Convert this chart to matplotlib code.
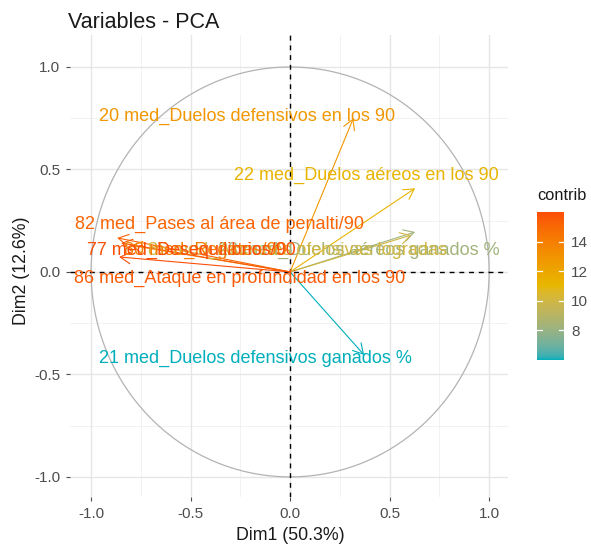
import numpy as np
import matplotlib
matplotlib.use("Agg")
import matplotlib.pyplot as plt
from matplotlib.colors import ListedColormap, Normalize, to_rgb

plt.rcParams['font.family'] = ['Liberation Sans', 'DejaVu Sans']

# ---- data ----
var_labels = [
    "20 med_Duelos defensivos en los 90",
    "22 med_Duelos aéreos en los 90",
    "23 med_Duelos aéreos ganados %",
    "85 med_Acciones ofensivas logradas",
    "21 med_Duelos defensivos ganados %",
    "82 med_Pases al área de penalti/90",
    "80 med_Regates/90",
    "86 med_Ataque en profundidad en los 90",
    "77 med_Desequilibrios/90",
]
dim1 = [0.318, 0.628, 0.628, 0.610, 0.372, -0.869, -0.800, -0.849, -0.859]
dim2 = [0.750, 0.408, 0.195, 0.180, -0.405, 0.166, 0.130, 0.141, 0.073]
contrib = [12.8, 11.2, 8.3, 10.0, 6.0, 15.2, 14.0, 15.5, 16.0]
# label anchor positions (as placed by the repel algorithm in the reference)
label_x = [-0.214, 0.385, 1.055, 0.789, -0.176, -0.354, -0.015, -0.254, -1.02]
label_y = [0.758, 0.473, 0.107, 0.107, -0.424, 0.234, 0.107, -0.030, 0.107]
label_ha = ["center", "center", "right", "right", "center", "center", "right", "center", "left"]

xticks = [-1.0, -0.5, 0.0, 0.5, 1.0]
yticks = [-1.0, -0.5, 0.0, 0.5, 1.0]
cbar_ticks = [8, 10, 12, 14]
gradient_cols = ["#00AFBB", "#E7B800", "#FC4E07"]

# ---- Lab-space gradient (like ggplot2 scales) ----
def srgb_to_lab(rgb):
    rgb = np.asarray(rgb, float)
    lin = np.where(rgb <= 0.04045, rgb / 12.92, ((rgb + 0.055) / 1.055) ** 2.4)
    M = np.array([[0.4124564, 0.3575761, 0.1804375],
                  [0.2126729, 0.7151522, 0.0721750],
                  [0.0193339, 0.1191920, 0.9503041]])
    xyz = lin @ M.T / np.array([0.95047, 1.0, 1.08883])
    f = np.where(xyz > 0.008856, np.cbrt(xyz), 7.787 * xyz + 16 / 116)
    return np.stack([116 * f[..., 1] - 16, 500 * (f[..., 0] - f[..., 1]),
                     200 * (f[..., 1] - f[..., 2])], -1)

def lab_to_srgb(lab):
    lab = np.asarray(lab, float)
    fy_ = (lab[..., 0] + 16) / 116
    fx_ = fy_ + lab[..., 1] / 500
    fz_ = fy_ - lab[..., 2] / 200
    f = np.stack([fx_, fy_, fz_], -1)
    xyz = np.where(f ** 3 > 0.008856, f ** 3, (f - 16 / 116) / 7.787)
    xyz = xyz * np.array([0.95047, 1.0, 1.08883])
    Minv = np.linalg.inv(np.array([[0.4124564, 0.3575761, 0.1804375],
                                   [0.2126729, 0.7151522, 0.0721750],
                                   [0.0193339, 0.1191920, 0.9503041]]))
    lin = xyz @ Minv.T
    lin = np.clip(lin, 0, 1)
    rgb = np.where(lin <= 0.0031308, 12.92 * lin, 1.055 * lin ** (1 / 2.4) - 0.055)
    return np.clip(rgb, 0, 1)

labs = srgb_to_lab([to_rgb(c) for c in gradient_cols])
n = 256
pos = np.linspace(0, 1, n)
anchors = np.linspace(0, 1, len(gradient_cols))
lab_interp = np.stack([np.interp(pos, anchors, labs[:, k]) for k in range(3)], -1)
cmap = ListedColormap(lab_to_srgb(lab_interp))

W, H = 591, 546
fig = plt.figure(figsize=(W / 100, H / 100), dpi=100)
fig.patch.set_facecolor("white")

def fx(px):
    return px / W

def fy(py):
    return 1 - py / H

ax = fig.add_axes([fx(70), fy(497), fx(508) - fx(70), fy(35) - fy(497)])
ax.set_xlim(-1.106, 1.095)
ax.set_ylim(-1.098, 1.156)
for s in ax.spines.values():
    s.set_visible(False)

norm = Normalize(vmin=min(contrib), vmax=max(contrib))

# grid
for v in [-0.75, -0.25, 0.25, 0.75]:
    ax.axvline(v, color="#F0F0F0", lw=0.6, zorder=0)
    ax.axhline(v, color="#F0F0F0", lw=0.6, zorder=0)
for v in xticks:
    ax.axvline(v, color="#E6E6E6", lw=1.0, zorder=0)
for v in yticks:
    ax.axhline(v, color="#E6E6E6", lw=1.0, zorder=0)

# circle
t = np.linspace(0, 2 * np.pi, 400)
ax.plot(np.cos(t), np.sin(t), color="#B3B3B3", lw=0.9, zorder=1)

# dashed lines
ax.axhline(0, color="black", lw=1.0, ls=(0, (3.5, 3.5)), zorder=2)
ax.axvline(0, color="black", lw=1.0, ls=(0, (3.5, 3.5)), zorder=2)

# arrows
for x, y, c in zip(dim1, dim2, contrib):
    ax.annotate("", xy=(x, y), xytext=(0, 0),
                arrowprops=dict(arrowstyle="->,head_length=0.4,head_width=0.23",
                                color=cmap(norm(c)), lw=0.8, mutation_scale=18,
                                shrinkA=0, shrinkB=0), zorder=3)

# labels
for lab, x, y, ha, c in zip(var_labels, label_x, label_y, label_ha, contrib):
    ax.text(x, y, lab, ha=ha, va="center", fontsize=13, color=cmap(norm(c)), zorder=4)

ax.set_xticks(xticks)
ax.set_yticks(yticks)
ax.set_xticklabels([f"{v:.1f}" for v in xticks])
ax.set_yticklabels([f"{v:.1f}" for v in yticks])
ax.tick_params(axis="both", length=3, width=0.8, color="#4D4D4D",
               labelsize=11, labelcolor="#4D4D4D", pad=4)

# titles
fig.text(fx(68), fy(22), "Variables - PCA", fontsize=15.5, color="#1A1A1A",
         ha="left", va="center")
fig.text(fx(290), fy(535), "Dim1 (50.3%)", fontsize=12.8, color="#1A1A1A",
         ha="center", va="center")
fig.text(fx(22), fy(271), "Dim2 (12.6%)", fontsize=12.8, color="#1A1A1A",
         ha="center", va="center", rotation=90)

# colorbar
cax = fig.add_axes([fx(537), fy(360), fx(564) - fx(537), fy(212) - fy(360)])
grad = np.linspace(norm.vmin, norm.vmax, 256).reshape(-1, 1)
cax.imshow(grad, aspect="auto", cmap=cmap, norm=norm, origin="lower",
           extent=[0, 1, norm.vmin, norm.vmax])
cax.set_xlim(0, 1)
cax.set_ylim(norm.vmin, norm.vmax)
cax.set_xticks([])
cax.yaxis.tick_right()
cax.set_yticks(cbar_ticks)
cax.set_yticklabels([str(v) for v in cbar_ticks])
cax.tick_params(axis="y", length=0, labelsize=11, labelcolor="#4D4D4D", pad=5)
for s in cax.spines.values():
    s.set_visible(False)
for v in cbar_ticks:
    cax.plot([0, 0.2], [v, v], color="white", lw=0.9)
    cax.plot([0.8, 1.0], [v, v], color="white", lw=0.9)
fig.text(fx(537), fy(195), "contrib", fontsize=11.8, color="#1A1A1A",
         ha="left", va="center")

fig.savefig("out.png", dpi=100)
